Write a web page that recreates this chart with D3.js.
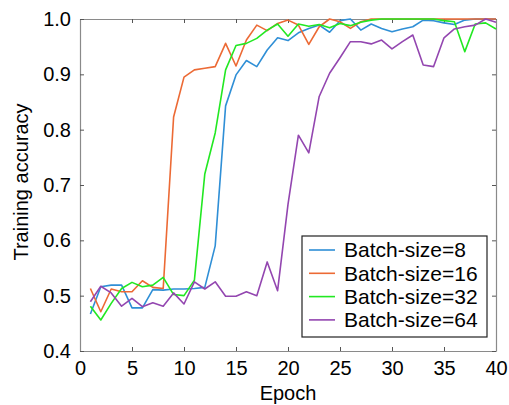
<!DOCTYPE html>
<html>
<head>
<meta charset="utf-8">
<script src="https://cdn.jsdelivr.net/npm/d3@7"></script>
<style>
  body { margin: 0; background: #fff; }
  svg text { font-family: "Liberation Sans", Arial, sans-serif; fill: #000; }
</style>
</head>
<body>
<svg id="chart"></svg>
<script>
// Training accuracy vs epoch for four batch sizes

const epochs = d3.range(1, 41);
const xTicks = [0, 5, 10, 15, 20, 25, 30, 35, 40];
const yTicks = [0.4, 0.5, 0.6, 0.7, 0.8, 0.9, 1.0];
const seriesNames = ["Batch-size=8", "Batch-size=16", "Batch-size=32", "Batch-size=64"];
const seriesColors = ["#2f8fd6", "#ec6a35", "#22e822", "#9346b0"];

const batch8 = [0.467, 0.516, 0.519, 0.519, 0.478, 0.478, 0.511, 0.510, 0.512, 0.512,
                0.513, 0.515, 0.590, 0.843, 0.899, 0.925, 0.914, 0.944, 0.966, 0.961,
                0.975, 0.983, 0.989, 0.976, 0.997, 1.000, 0.980, 0.991, 0.983, 0.977,
                0.982, 0.986, 0.998, 0.997, 0.993, 0.990, 0.998, 1.000, 1.000, 1.000];
const batch16 = [0.513, 0.471, 0.512, 0.507, 0.507, 0.527, 0.515, 0.513, 0.823, 0.895,
                 0.908, 0.911, 0.914, 0.956, 0.915, 0.962, 0.989, 0.979, 0.992, 0.998,
                 0.989, 0.954, 0.986, 1.000, 0.995, 0.983, 0.995, 1.000, 1.000, 1.000,
                 1.000, 1.000, 1.000, 1.000, 1.000, 1.000, 1.000, 1.000, 1.000, 1.000];
const batch32 = [0.481, 0.456, 0.486, 0.513, 0.524, 0.516, 0.519, 0.533, 0.502, 0.500,
                 0.528, 0.720, 0.794, 0.908, 0.952, 0.956, 0.965, 0.980, 0.991, 0.969,
                 0.991, 0.987, 0.990, 0.984, 0.992, 0.988, 0.994, 0.998, 1.000, 1.000,
                 1.000, 1.000, 1.000, 1.000, 0.997, 0.995, 0.941, 0.991, 0.993, 0.982];
const batch64 = [0.489, 0.517, 0.505, 0.481, 0.495, 0.480, 0.487, 0.481, 0.505, 0.485,
                 0.525, 0.512, 0.525, 0.499, 0.499, 0.507, 0.500, 0.561, 0.509, 0.665,
                 0.790, 0.758, 0.860, 0.902, 0.930, 0.959, 0.959, 0.955, 0.962, 0.946,
                 0.959, 0.971, 0.917, 0.914, 0.966, 0.982, 0.986, 0.989, 1.000, 0.994];
const allSeries = [batch8, batch16, batch32, batch64];

const width = 509, height = 405;
const margin = { top: 19, right: 13, bottom: 54, left: 80 };
const innerW = width - margin.left - margin.right;
const innerH = height - margin.top - margin.bottom;

const svg = d3.select("#chart").attr("width", width).attr("height", height);
const g = svg.append("g").attr("transform", `translate(${margin.left},${margin.top})`);

const x = d3.scaleLinear().domain([0, 40]).range([0, innerW]);
const y = d3.scaleLinear().domain([0.4, 1.0]).range([innerH, 0]);

const axisColor = "#8a8a8a";

// 軸（目盛りは内向き）
const xAxis = g.append("g").attr("transform", `translate(0,${innerH})`)
  .call(d3.axisBottom(x).tickValues(xTicks).tickSizeInner(-4).tickSizeOuter(0).tickPadding(10).tickFormat(d3.format("d")));
const xTop = g.append("g")
  .call(d3.axisTop(x).tickValues(xTicks).tickSizeInner(-4).tickSizeOuter(0).tickFormat(""));
const yAxis = g.append("g")
  .call(d3.axisLeft(y).tickValues(yTicks).tickSizeInner(-4).tickSizeOuter(0).tickPadding(9).tickFormat(d3.format(".1f")));
const yRight = g.append("g").attr("transform", `translate(${innerW},0)`)
  .call(d3.axisRight(y).tickValues(yTicks).tickSizeInner(-4).tickSizeOuter(0).tickFormat(""));

[xAxis, xTop, yAxis, yRight].forEach(a => {
  a.select(".domain").attr("stroke", axisColor).attr("stroke-width", 1.2);
  a.selectAll(".tick line").attr("stroke", "#555");
  a.selectAll(".tick text").attr("font-size", 20).attr("fill", "#000")
    .attr("font-family", "'Liberation Sans', Arial, sans-serif");
});

// データ線
const line = d3.line().x((d, i) => x(epochs[i])).y(d => y(d));
allSeries.forEach((s, k) => {
  g.append("path")
    .datum(s)
    .attr("fill", "none")
    .attr("stroke", seriesColors[k])
    .attr("stroke-width", 1.6)
    .attr("stroke-linejoin", "round")
    .attr("d", line);
});

// 軸ラベル
svg.append("text")
  .attr("x", margin.left + innerW / 2)
  .attr("y", 400)
  .attr("text-anchor", "middle")
  .attr("font-size", 20)
  .text("Epoch");

svg.append("text")
  .attr("transform", `translate(28,${margin.top + innerH / 2 - 3}) rotate(-90)`)
  .attr("text-anchor", "middle")
  .attr("font-size", 20)
  .text("Training accuracy");

// 凡例
const legend = svg.append("g").attr("transform", "translate(302,236)");
legend.append("rect")
  .attr("width", 185).attr("height", 101)
  .attr("fill", "#fff").attr("stroke", "#222").attr("stroke-width", 1.2);
seriesNames.forEach((name, k) => {
  const yy = 14 + k * 23.3;
  legend.append("line")
    .attr("x1", 7).attr("x2", 33).attr("y1", yy).attr("y2", yy)
    .attr("stroke", seriesColors[k]).attr("stroke-width", 1.6);
  legend.append("text")
    .attr("x", 42).attr("y", yy).attr("dy", "0.35em")
    .attr("font-size", 21)
    .text(name);
});
</script>
</body>
</html>
